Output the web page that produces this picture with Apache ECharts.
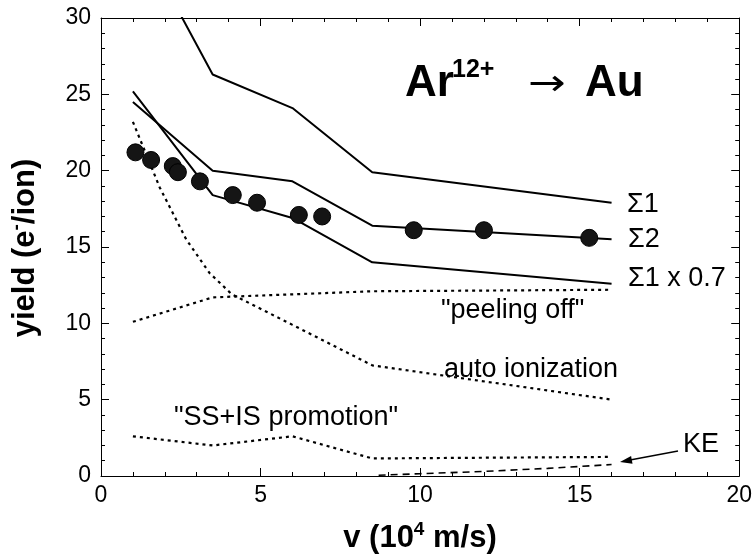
<!DOCTYPE html>
<html>
<head>
<meta charset="utf-8">
<script src="https://cdn.jsdelivr.net/npm/echarts@6/dist/echarts.min.js"></script>
<style>
  html, body { margin: 0; padding: 0; background: #fff; }
  #chart { width: 755px; height: 554px; }
</style>
</head>
<body>
<div id="chart"></div>
<script>
// Model curves, sampled at the calculation velocities (10^4 m/s)
const modelV = [1, 3.5, 6, 8.5, 16];
const sigma1 = [36.0, 26.3, 24.1, 19.9, 17.9];
const sigma2 = [24.5, 20.0, 19.3, 16.4, 15.5];
const sigma1Scaled = [25.2, 18.4, 16.9, 14.0, 12.6];
const peelingOff = [10.1, 11.7, 11.9, 12.1, 12.2];
const ssIsPromotion = [2.6, 2.0, 2.6, 1.15, 1.25];

const autoIonV = [1, 1.84, 2.67, 3.4, 4.1, 6, 8.5, 16];
const autoIonization = [23.2, 18.9, 15.5, 13.3, 11.9, 9.9, 7.25, 5.0];

const keV = [8.7, 10, 12, 14, 16];
const keYield = [0.05, 0.15, 0.3, 0.5, 0.75];

// Measured electron yields
const measuredV = [1.08, 1.57, 2.25, 2.41, 3.1, 4.13, 4.89, 6.2, 6.93, 9.8, 12.0, 15.3];
const measuredYield = [21.2, 20.7, 20.3, 19.9, 19.3, 18.4, 17.9, 17.1, 17.0, 16.1, 16.1, 15.6];

// Axis ranges and tick spacing
const xRange = [0, 20];
const yRange = [0, 30];
const tickStep = 5;

const FONT = '"Liberation Sans", Arial, Helvetica, sans-serif';

const pairs = (xs, ys) => xs.map((x, i) => [x, ys[i]]);

const chart = echarts.init(document.getElementById('chart'), null, { renderer: 'canvas' });

function makeAxis(dim, position, showLabel) {
  const range = dim === 'x' ? xRange : yRange;
  return {
    type: 'value',
    position: position,
    min: range[0],
    max: range[1],
    interval: tickStep,
    axisLine: { show: true, onZero: false, lineStyle: { color: '#000', width: 1 } },
    axisTick: { show: true, inside: true, length: 8, lineStyle: { color: '#000', width: 1 } },
    minorTick: { show: true, splitNumber: 5, length: 4, lineStyle: { color: '#000', width: 1 } },
    splitLine: { show: false },
    minorSplitLine: { show: false },
    axisLabel: {
      show: showLabel,
      color: '#000',
      fontFamily: FONT,
      fontSize: 23,
      margin: dim === 'x' ? 8 : 10
    }
  };
}

const solid = { color: '#000', width: 2, type: 'solid' };
const dotted = { color: '#000', width: 2.2, type: [3, 4] };
const labelFont = '27px ' + FONT;

function label(x, y, text) {
  return { type: 'text', x: x, y: y, style: { text: text, font: labelFont, fill: '#000', verticalAlign: 'middle' } };
}

const option = {
  animation: false,
  backgroundColor: '#fff',
  grid: { left: 101, right: 14, top: 18, bottom: 78, containLabel: false },
  xAxis: [makeAxis('x', 'bottom', true), makeAxis('x', 'top', false)],
  yAxis: [makeAxis('y', 'left', true), makeAxis('y', 'right', false)],
  series: [
    { name: 'Σ1', type: 'line', data: pairs(modelV, sigma1), showSymbol: false, lineStyle: solid, clip: true },
    { name: 'Σ2', type: 'line', data: pairs(modelV, sigma2), showSymbol: false, lineStyle: solid, clip: true },
    { name: 'Σ1 x 0.7', type: 'line', data: pairs(modelV, sigma1Scaled), showSymbol: false, lineStyle: solid, clip: true },
    { name: 'peeling off', type: 'line', data: pairs(modelV, peelingOff), showSymbol: false, lineStyle: dotted },
    { name: 'auto ionization', type: 'line', data: pairs(autoIonV, autoIonization), showSymbol: false, lineStyle: dotted },
    { name: 'SS+IS promotion', type: 'line', data: pairs(modelV, ssIsPromotion), showSymbol: false, lineStyle: dotted },
    { name: 'KE', type: 'line', data: pairs(keV, keYield), showSymbol: false, lineStyle: { color: '#000', width: 1.6, type: [7, 5] } },
    {
      name: 'measured', type: 'scatter', data: pairs(measuredV, measuredYield),
      symbol: 'circle', symbolSize: 17,
      itemStyle: { color: '#151515', borderColor: '#000', borderWidth: 1, opacity: 1 }, z: 5
    }
  ],
  graphic: [
    // reaction title
    { type: 'text', x: 405, y: 84, style: { text: 'Ar', font: 'bold 44px ' + FONT, fill: '#000', verticalAlign: 'middle' } },
    { type: 'text', x: 452, y: 70, style: { text: '12+', font: 'bold 25px ' + FONT, fill: '#000', verticalAlign: 'middle' } },
    { type: 'text', x: 528, y: 86, scaleX: 1.25, style: { text: '→', font: '36px "DejaVu Sans", sans-serif', fill: '#000', verticalAlign: 'middle' } },
    { type: 'text', x: 585, y: 84, style: { text: 'Au', font: 'bold 44px ' + FONT, fill: '#000', verticalAlign: 'middle' } },

    // curve labels
    label(627, 205, 'Σ1'),
    label(628, 240, 'Σ2'),
    label(628, 279, 'Σ1 x 0.7'),
    label(441, 311, '"peeling off"'),
    label(444, 370, 'auto ionization'),
    label(174, 418, '"SS+IS promotion"'),
    label(683, 445, 'KE'),

    // arrow pointing at the KE curve
    { type: 'line', shape: { x1: 678, y1: 451, x2: 630, y2: 460 }, style: { stroke: '#000', lineWidth: 1.3 } },
    { type: 'polygon', shape: { points: [[620, 462], [632.5, 463.8], [631.1, 456.0]] }, style: { fill: '#000' } },

    // axis titles
    {
      type: 'text', x: 420, y: 538,
      style: {
        text: '{a|v (10}{s|4}{a| m/s)}',
        align: 'center', verticalAlign: 'middle',
        rich: {
          a: { font: 'bold 31px ' + FONT, fill: '#000', lineHeight: 35 },
          s: { font: 'bold 19px ' + FONT, fill: '#000', verticalAlign: 'top', lineHeight: 35 }
        }
      }
    },
    {
      type: 'text', x: 25, y: 248, rotation: Math.PI / 2,
      style: {
        text: '{a|yield (e}{s|-}{a|/ion)}',
        align: 'center', verticalAlign: 'middle',
        rich: {
          a: { font: 'bold 31px ' + FONT, fill: '#000', lineHeight: 35 },
          s: { font: 'bold 19px ' + FONT, fill: '#000', verticalAlign: 'top', lineHeight: 35 }
        }
      }
    }
  ]
};

chart.setOption(option);
</script>
</body>
</html>
